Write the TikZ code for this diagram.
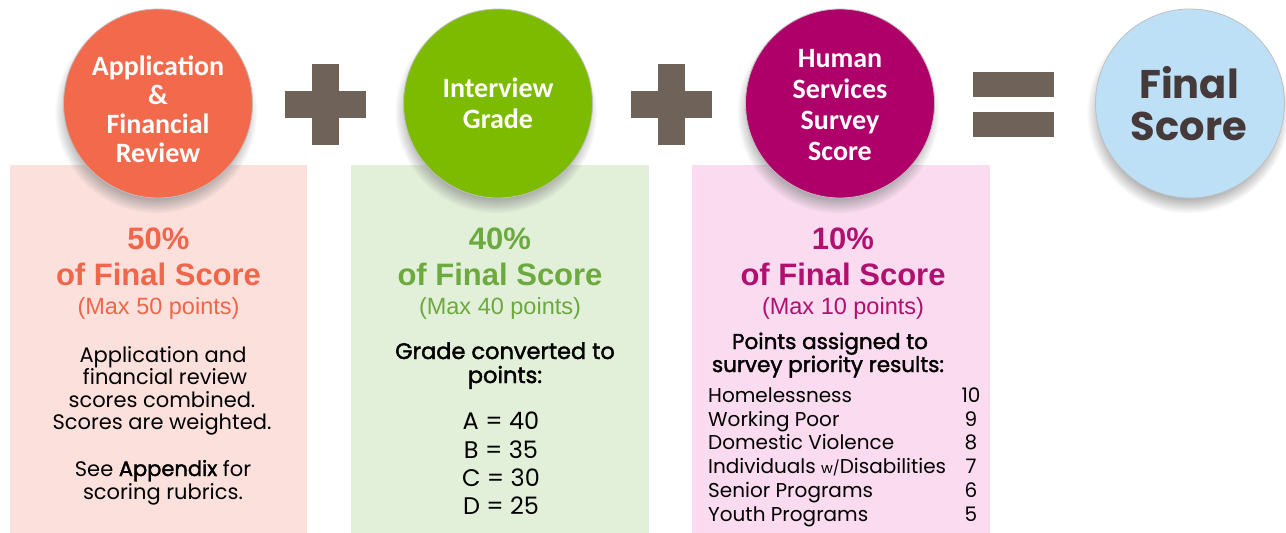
\documentclass[tikz,border=0pt]{standalone}
\usepackage{fontspec}
\setmainfont{Poppins}
\newfontfamily\medfont[FakeBold=1.8]{Poppins}
\newfontfamily\calfont{Carlito}
\newfontfamily\arifont{Liberation Sans}
\usetikzlibrary{shadows}
\definecolor{cOr}{HTML}{F26A4B}
\definecolor{bOr}{HTML}{FCE0DC}
\definecolor{tOr}{HTML}{F0664A}
\definecolor{cGr}{HTML}{7CBB00}
\definecolor{bGr}{HTML}{E2F0D9}
\definecolor{tGr}{HTML}{6CA93E}
\definecolor{cMa}{HTML}{AF0069}
\definecolor{bMa}{HTML}{FADBEF}
\definecolor{tMa}{HTML}{B0106F}
\definecolor{cBl}{HTML}{BDE0F6}
\definecolor{tDk}{HTML}{45393A}
\definecolor{opG}{HTML}{6E6259}
\tikzset{
  bigcirc/.style={circle, minimum size=189pt, inner sep=0pt, draw=black!25, line width=0.8pt,
    circular drop shadow={shadow xshift=-2pt, shadow yshift=-8pt, shadow scale=1.07, opacity=0.6}},
  ctext/.style={anchor=base, text=white, font=\calfont\bfseries\fontsize{28}{30}\selectfont, inner sep=0pt},
  pct/.style={anchor=base, font=\arifont\bfseries\fontsize{31}{33}\selectfont, inner sep=0pt},
  maxp/.style={anchor=base, font=\arifont\fontsize{23.5}{25}\selectfont, inner sep=0pt},
  body/.style={anchor=base, font=\fontsize{21}{23}\selectfont, inner sep=0pt},
  medb/.style={anchor=base, font=\medfont\fontsize{22.5}{24}\selectfont, inner sep=0pt},
  bodyl/.style={anchor=base west, font=\fontsize{20}{22}\selectfont, inner sep=0pt},
  bodyn/.style={anchor=base, font=\fontsize{20}{22}\selectfont, inner sep=0pt},
  grade/.style={anchor=base, font=\fontsize{24}{26}\selectfont, inner sep=0pt},
  opbar/.style={fill=opG, draw=none, inner sep=0pt},
}
\begin{document}
\begin{tikzpicture}[x=1pt,y=-1pt]
\useasboundingbox (0,0) rectangle (1286,533);
% panels
\fill[bOr] (10,165) rectangle (307,533);
\fill[bGr] (351,165) rectangle (649,533);
\fill[bMa] (692,165) rectangle (990,533);
% operators
\node[opbar, minimum width=81pt, minimum height=27pt] (p1h) at (325.5,104) {};
\node[opbar, minimum width=27pt, minimum height=81pt] (p1v) at (325.5,104) {};
\node[opbar, minimum width=81pt, minimum height=27pt] (p2h) at (671,104) {};
\node[opbar, minimum width=27pt, minimum height=81pt] (p2v) at (671,104) {};
\node[opbar, minimum width=81pt, minimum height=25pt] (e1) at (1013.5,84.5) {};
\node[opbar, minimum width=81pt, minimum height=25pt] (e2) at (1013.5,124) {};
% circles
\node[bigcirc, fill=cOr] (c1) at (158,103.5) {};
\node[bigcirc, fill=cGr] (c2) at (498,103.5) {};
\node[bigcirc, fill=cMa] (c3) at (840,103.5) {};
\node[bigcirc, fill=cBl] (c4) at (1190,103.5) {};
% circle texts
\node[ctext] (t1a) at (158,75) {Application};
\node[ctext] (t1b) at (158,104) {\&};
\node[ctext] (t1c) at (158,133) {Financial};
\node[ctext] (t1d) at (158,162) {Review};
\node[ctext] (t2a) at (498,97) {Interview};
\node[ctext] (t2b) at (498,128) {Grade};
\node[ctext] (t3a) at (840,67) {Human};
\node[ctext] (t3b) at (840,98) {Services};
\node[ctext] (t3c) at (840,129) {Survey};
\node[ctext] (t3d) at (840,160) {Score};
\node[anchor=base, text=tDk, font=\bfseries\fontsize{40}{42}\selectfont, inner sep=0pt] (t4a) at (1189,98) {Final};
\node[anchor=base, text=tDk, font=\bfseries\fontsize{40}{42}\selectfont, inner sep=0pt] (t4b) at (1189,140) {Score};
% panel 1
\node[pct, text=tOr] (h1a) at (158.5,249) {50\%};
\node[pct, text=tOr] (h1b) at (158.5,285) {of Final Score};
\node[maxp, text=tOr] (h1c) at (158.5,314) {(Max 50 points)};
\node[body] (l1a) at (163,362) {Application and};
\node[body] (l1b) at (165,384) {financial review};
\node[body] (l1c) at (162,407) {scores combined.};
\node[body] (l1d) at (162,429) {Scores are weighted.};
\node[body] (l1e) at (163,476) {See {\medfont Appendix} for};
\node[body] (l1f) at (163,499) {scoring rubrics.};
% panel 2
\node[pct, text=tGr] (h2a) at (500,249) {40\%};
\node[pct, text=tGr] (h2b) at (500,285) {of Final Score};
\node[maxp, text=tGr] (h2c) at (500,314) {(Max 40 points)};
\node[medb] (l2a) at (505,359) {Grade converted to};
\node[medb] (l2b) at (505,383) {points:};
\node[grade] (g1) at (501,429) {A = 40};
\node[grade] (g2) at (501,458) {B = 35};
\node[grade] (g3) at (501,486) {C = 30};
\node[grade] (g4) at (501,514) {D = 25};
% panel 3
\node[pct, text=tMa] (h3a) at (843,249) {10\%};
\node[pct, text=tMa] (h3b) at (843,285) {of Final Score};
\node[maxp, text=tMa] (h3c) at (843,314) {(Max 10 points)};
\node[medb, font=\medfont\fontsize{21.5}{23}\selectfont] (l3a) at (830,349) {Points assigned to};
\node[medb, font=\medfont\fontsize{21.5}{23}\selectfont] (l3b) at (828,372) {survey priority results:};
\node[bodyl] (s1) at (708,402) {Homelessness};
\node[bodyl] (s2) at (708,426) {Working Poor};
\node[bodyl] (s3) at (708,449) {Domestic Violence};
\node[bodyl] (s4) at (708,473) {Individuals {\fontsize{14.5}{16}\selectfont w/}Disabilities};
\node[bodyl] (s5) at (708,497) {Senior Programs};
\node[bodyl] (s6) at (708,521) {Youth Programs};
\node[bodyn] (n1) at (971,402) {10};
\node[bodyn] (n2) at (971,426) {9};
\node[bodyn] (n3) at (971,449) {8};
\node[bodyn] (n4) at (971,473) {7};
\node[bodyn] (n5) at (971,497) {6};
\node[bodyn] (n6) at (971,521) {5};
\end{tikzpicture}
\end{document}
